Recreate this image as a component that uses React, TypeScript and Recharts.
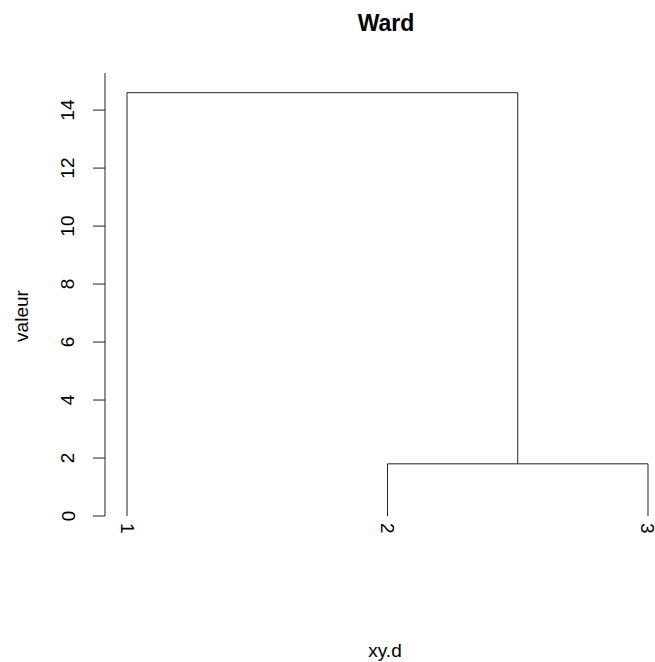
import React from 'react';
import { LineChart, Line, XAxis, YAxis } from 'recharts';

// dendrogram data (hclust, method "ward")
const leafLabels = ['1', '2', '3'];
const leafOrder = [1, 2, 3];
// R-style merge matrix: negative = leaf, positive = earlier merge
const merges = [
  [-2, -3],
  [-1, 1],
];
const mergeHeights = [1.8, 14.6];
const yTicks = [0, 2, 4, 6, 8, 10, 12, 14];

const FONT = '"Liberation Sans", Arial, Helvetica, sans-serif';
const INK = '#222';

function buildSegments() {
  const nodePos: number[] = [];
  const nodeH: number[] = [];
  const posOf = (ref: number) => (ref < 0 ? leafOrder.indexOf(-ref) + 1 : nodePos[ref - 1]);
  const hOf = (ref: number) => (ref < 0 ? 0 : nodeH[ref - 1]);
  return merges.map(([a, b], k) => {
    const h = mergeHeights[k];
    const xa = posOf(a);
    const xb = posOf(b);
    nodePos[k] = (xa + xb) / 2;
    nodeH[k] = h;
    return [
      { x: xa, y: hOf(a) },
      { x: xa, y: h },
      { x: xb, y: h },
      { x: xb, y: hOf(b) },
    ];
  });
}

const segments = buildSegments();

function LeafTick(props: any) {
  const { x, payload } = props;
  const label = leafLabels[leafOrder.indexOf(payload.value)] ?? '';
  return (
    <text
      x={x}
      y={523}
      transform={`rotate(90, ${x}, 523)`}
      textAnchor="start"
      dominantBaseline="central"
      fontFamily={FONT}
      fontSize={19}
      fill="#000"
    >
      {label}
    </text>
  );
}

function ValueTick(props: any) {
  const { y, payload } = props;
  return (
    <text
      x={68}
      y={y}
      transform={`rotate(-90, 68, ${y})`}
      textAnchor="middle"
      dominantBaseline="central"
      fontFamily={FONT}
      fontSize={19}
      fill="#000"
    >
      {payload.value}
    </text>
  );
}

export default function App() {
  return (
    <div style={{ position: 'absolute', left: 0, top: 0, width: 655, height: 662, background: '#fff' }}>
      <LineChart width={655} height={662} margin={{ top: 73, right: 0, bottom: 0, left: 45 }}>
        <XAxis
          type="number"
          dataKey="x"
          domain={[0.9155, 3.0269]}
          ticks={leafOrder}
          axisLine={false}
          tickLine={false}
          tick={<LeafTick />}
          height={146}
          allowDataOverflow
        />
        <YAxis
          type="number"
          domain={[0, 15.28]}
          ticks={yTicks}
          width={60}
          tickSize={12}
          axisLine={{ stroke: INK }}
          tickLine={{ stroke: INK }}
          tick={<ValueTick />}
          allowDataOverflow
        />
        {segments.map((seg, i) => (
          <Line
            key={i}
            data={seg}
            dataKey="y"
            type="linear"
            stroke={INK}
            strokeWidth={1}
            dot={false}
            activeDot={false}
            isAnimationActive={false}
          />
        ))}
      </LineChart>
      <svg
        width={655}
        height={662}
        style={{ position: 'absolute', left: 0, top: 0, pointerEvents: 'none' }}
      >
        <text x={386} y={23} textAnchor="middle" dominantBaseline="central" fontFamily={FONT} fontSize={23} fontWeight="bold" fill="#000">
          Ward
        </text>
        <text x={385} y={650} textAnchor="middle" dominantBaseline="central" fontFamily={FONT} fontSize={19} fill="#000">
          xy.d
        </text>
        <text x={21} y={316} transform="rotate(-90, 21, 316)" textAnchor="middle" dominantBaseline="central" fontFamily={FONT} fontSize={19} fill="#000">
          valeur
        </text>
      </svg>
    </div>
  );
}
